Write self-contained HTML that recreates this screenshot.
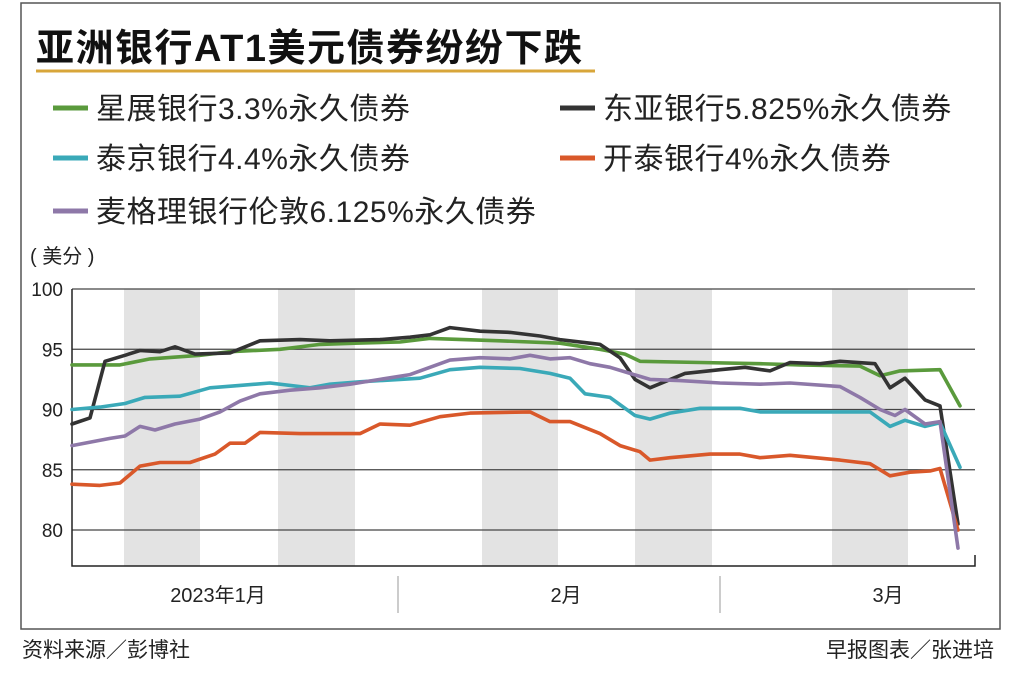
<!DOCTYPE html>
<html><head><meta charset="utf-8">
<style>
body{margin:0;background:#fff;width:1024px;height:682px;overflow:hidden;font-family:"Liberation Sans","Noto Sans CJK SC",sans-serif;}
svg text{font-family:"Liberation Sans","Noto Sans CJK SC",sans-serif;}
</style></head>
<body>
<svg id="chart" width="1024" height="682" viewBox="0 0 1024 682" xmlns="http://www.w3.org/2000/svg">
<rect x="21" y="3" width="979" height="626" fill="none" stroke="#555" stroke-width="1.5"/>
<text x="36" y="61" font-size="38" font-weight="bold" letter-spacing="1.5" fill="#111">亚洲银行AT1美元债券纷纷下跌</text>
<line x1="36" y1="71" x2="595" y2="71" stroke="#d8a63a" stroke-width="3"/>
<g id="legend"></g>
<text x="30" y="263" font-size="20" fill="#222">( 美分 )</text>
<g id="bands"></g>
<g id="grid"></g>
<g id="series"></g>
<g id="xaxis"></g>
<text x="22" y="657" font-size="21" fill="#222">资料来源／彭博社</text>
<text x="994" y="657" font-size="21" fill="#222" text-anchor="end">早报图表／张进培</text>
</svg>
<script>
// time units (0..90) and values
const yTicks = [80, 85, 90, 95, 100];
const monthLabels = ["2023年1月", "2月", "3月"];
const monthStarts = [0, 32.6, 64.8];
const monthCenters = [14.6, 49.4, 81.6];
const bandStarts = [5.2, 20.6, 41, 56.3, 76];
const bandEnds = [12.8, 28.3, 48.6, 64, 83.6];
const seriesNames = ["星展银行3.3%永久债券","东亚银行5.825%永久债券","泰京银行4.4%永久债券","开泰银行4%永久债券","麦格理银行伦敦6.125%永久债券"];
const seriesColors = ["#5a9a3c","#333333","#3aa9b8","#d9582a","#8e78a8"];
const greenT = [0,4.8,7.8,12.8,15.8,20.8,24.8,28.3,32.8,35.8,42.8,48.8,52.8,55.3,56.8,62.8,68.8,72.8,78.8,80.8,82.8,86.8,88.8];
const greenV = [93.7,93.7,94.2,94.5,94.8,95.0,95.4,95.5,95.6,95.9,95.7,95.5,95.0,94.6,94.0,93.9,93.8,93.7,93.6,92.8,93.2,93.3,90.3];
const blackT = [0,1.8,3.3,5.3,6.8,8.8,10.3,12.3,15.8,18.8,22.8,25.8,30.8,33.8,35.8,37.8,40.8,43.8,46.8,48.8,51.8,52.8,54.8,56.3,57.8,61.3,64.8,67.3,69.8,71.8,74.8,76.8,80.3,81.8,83.3,85.3,86.8,88.6];
const blackV = [88.8,89.3,94.0,94.5,94.9,94.8,95.2,94.6,94.7,95.7,95.8,95.7,95.8,96.0,96.2,96.8,96.5,96.4,96.1,95.8,95.5,95.4,94.3,92.5,91.8,93.0,93.3,93.5,93.2,93.9,93.8,94.0,93.8,91.8,92.6,90.8,90.3,80.5];
const cyanT = [0,2.8,5.3,7.3,10.8,13.8,16.8,19.8,23.8,25.8,28.8,32.8,34.8,37.8,40.8,44.8,47.8,49.8,51.3,53.8,56.3,57.8,59.8,62.8,66.8,68.8,76.8,79.8,81.8,83.3,85.3,86.8,88.8];
const cyanV = [90.0,90.2,90.5,91.0,91.1,91.8,92.0,92.2,91.8,92.1,92.3,92.5,92.6,93.3,93.5,93.4,93.0,92.6,91.3,91.0,89.5,89.2,89.7,90.1,90.1,89.8,89.8,89.8,88.6,89.1,88.6,88.9,85.2];
const orangeT = [0,2.8,4.8,6.8,8.8,11.8,14.3,15.8,17.3,18.8,22.8,28.8,30.8,33.8,36.8,39.8,45.8,47.8,49.8,52.8,54.8,56.8,57.8,59.8,63.8,66.8,68.8,71.8,76.8,79.8,81.8,83.8,85.8,86.8,88.6];
const orangeV = [83.8,83.7,83.9,85.3,85.6,85.6,86.3,87.2,87.2,88.1,88.0,88.0,88.8,88.7,89.4,89.7,89.8,89.0,89.0,88.0,87.0,86.5,85.8,86.0,86.3,86.3,86.0,86.2,85.8,85.5,84.5,84.8,84.9,85.1,80.0];
const purpleT = [0,3.8,5.3,6.8,8.3,10.3,12.8,14.8,16.8,18.8,21.8,24.8,27.8,30.8,33.8,35.8,37.8,40.8,43.8,45.8,47.8,49.8,51.8,53.8,55.8,57.8,60.8,64.8,68.8,71.8,76.8,78.8,80.8,82.3,83.3,85.3,86.8,88.6];
const purpleV = [87.0,87.6,87.8,88.6,88.3,88.8,89.2,89.8,90.7,91.3,91.6,91.8,92.1,92.5,92.9,93.5,94.1,94.3,94.2,94.5,94.2,94.3,93.8,93.5,93.0,92.5,92.4,92.2,92.1,92.2,91.9,91.0,90.0,89.5,90.0,88.8,89.0,78.5];
const seriesT = [greenT, blackT, cyanT, orangeT, purpleT];
const seriesV = [greenV, blackV, cyanV, orangeV, purpleV];

const NS = "http://www.w3.org/2000/svg";
const X0 = 72, XPU = 10, Y100 = 289, PPU = 12.05;
const xs = t => X0 + t * XPU;
const ys = v => Y100 + (100 - v) * PPU;
function mk(tag, attrs, parent) { const e = document.createElementNS(NS, tag); for (const k in attrs) e.setAttribute(k, attrs[k]); parent.appendChild(e); return e; }

const bands = document.getElementById("bands");
bandStarts.forEach((b, i) => {
  const r = mk("rect", {x: xs(b), y: 289, width: xs(bandEnds[i]) - xs(b), height: 277, fill: "#e3e3e3"}, bands);
  
  
});
const grid = document.getElementById("grid");
yTicks.forEach(v => {
  const l = mk("line", {x1: X0, x2: 975, y1: ys(v), y2: ys(v), stroke: "#444", "stroke-width": 1.2}, grid);
  
  
  const t = mk("text", {x: 63, y: ys(v) + 7, "font-size": 19, fill: "#222", "text-anchor": "end"}, grid);
  t.textContent = v;
  
  
});
const ax = mk("path", {d: "M72 289 V566 H975 V555", fill: "none", stroke: "#222", "stroke-width": 1.5}, grid);



const sg = document.getElementById("series");
seriesT.forEach((ts, i) => {
  const d = ts.map((t, j) => (j ? "L" : "M") + xs(t).toFixed(1) + " " + ys(seriesV[i][j]).toFixed(1)).join(" ");
  const p = mk("path", {d: d, fill: "none", stroke: seriesColors[i], "stroke-width": 3.6, "stroke-linejoin": "round", "stroke-linecap": "round"}, sg);
  
  
});

const xa = document.getElementById("xaxis");
monthStarts.forEach((m, i) => {
  if (i > 0) {
    const l = mk("line", {x1: xs(m), x2: xs(m), y1: 576, y2: 613, stroke: "#999", "stroke-width": 1}, xa);
    
    
  }
  const t = mk("text", {x: xs(monthCenters[i]), y: 602, "font-size": 20, fill: "#222", "text-anchor": "middle"}, xa);
  t.textContent = monthLabels[i];
  
  
});

const lg = document.getElementById("legend");
const legPos = [[53,108],[560,108],[53,158],[560,158],[53,211]];
const legOrder = [0,1,2,3,4];
legOrder.forEach((si, k) => {
  const [lx, ly] = legPos[k];
  const g = mk("g", {}, lg);
  
  
  mk("line", {x1: lx, x2: lx + 35, y1: ly, y2: ly, stroke: seriesColors[si], "stroke-width": 5}, g);
  const t = mk("text", {x: lx + 43, y: ly + 11, "font-size": 30, "letter-spacing": 0.5, fill: "#222"}, g);
  t.textContent = seriesNames[si];
});
</script>
</body></html>
